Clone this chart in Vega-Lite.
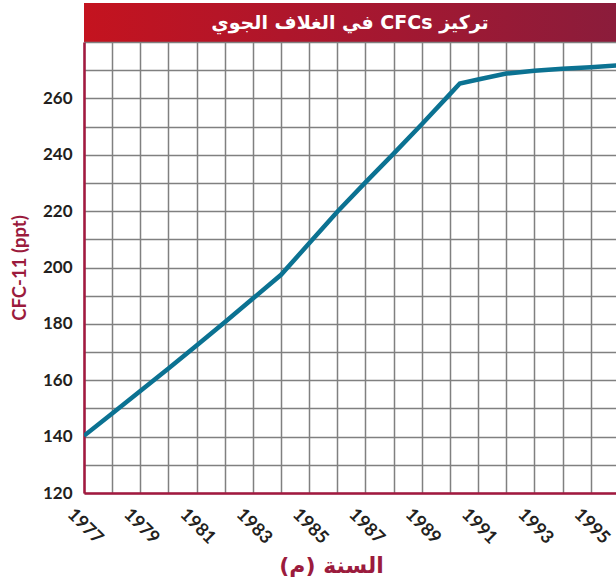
{
  "$schema": "https://vega.github.io/schema/vega-lite/v6.json",
  "padding": {"left": 10, "top": 3, "right": 0, "bottom": 0},
  "spacing": 0,
  "bounds": "flush",
  "config": {"view": {"stroke": null}, "font": "Lato"},
  "vconcat": [
    {
      "width": 532,
      "height": 39,
      "data": {"values": [{"title": "\u202bتركيز CFCs في الغلاف الجوي\u202c"}]},
      "layer": [
        {
          "mark": {
            "type": "rect",
            "color": {
              "gradient": "linear", "x1": 0, "x2": 1, "y1": 0, "y2": 0,
              "stops": [
                {"offset": 0, "color": "#c4131f"},
                {"offset": 0.5, "color": "#a8172f"},
                {"offset": 1, "color": "#8b1c3b"}
              ]
            }
          },
          "encoding": {}
        },
        {
          "mark": {"type": "text", "color": "white", "fontSize": 19, "fontWeight": "bold", "font": "DejaVu Sans"},
          "encoding": {"text": {"field": "title"}}
        }
      ]
    },
    {
      "width": 532,
      "height": 451,
      "data": {
        "values": [
          {"year": 1977, "cfc": 140.3},
          {"year": 1978, "cfc": 148.2},
          {"year": 1979, "cfc": 156.2},
          {"year": 1980, "cfc": 164.2},
          {"year": 1981, "cfc": 172.3},
          {"year": 1982, "cfc": 180.6},
          {"year": 1983, "cfc": 189.0},
          {"year": 1984, "cfc": 197.4},
          {"year": 1985, "cfc": 208.6},
          {"year": 1986, "cfc": 219.8},
          {"year": 1987, "cfc": 230.2},
          {"year": 1988, "cfc": 240.4},
          {"year": 1989, "cfc": 250.8},
          {"year": 1990, "cfc": 261.5},
          {"year": 1990.35, "cfc": 265.3},
          {"year": 1991, "cfc": 266.7},
          {"year": 1992, "cfc": 268.8},
          {"year": 1993, "cfc": 269.8},
          {"year": 1994, "cfc": 270.5},
          {"year": 1995, "cfc": 271.0},
          {"year": 1996, "cfc": 271.7}
        ]
      },
      "mark": {"type": "line", "color": "#0b7292", "strokeWidth": 4.5, "clip": true},
      "encoding": {
        "x": {
          "field": "year",
          "type": "quantitative",
          "scale": {"domain": [1977, 1995.9], "nice": false, "zero": false},
          "axis": {
            "values": [1977, 1978, 1979, 1980, 1981, 1982, 1983, 1984, 1985, 1986, 1987, 1988, 1989, 1990, 1991, 1992, 1993, 1994, 1995],
            "format": "d",
            "labelExpr": "datum.value % 2 == 1 ? datum.label : ''",
            "grid": true, "gridColor": "#808080", "gridWidth": 1.5,
            "ticks": false,
            "domainColor": "#a3193f", "domainWidth": 2.5,
            "labelAngle": 45, "labelAlign": "left", "labelBaseline": "top",
            "labelFont": "Lato", "labelFontSize": 18, "labelFontWeight": "bold", "labelColor": "#231f20",
            "labelPadding": 12, "labelOffset": -8, "labelOverlap": false, "labelFlush": false, "labelBound": false,
            "title": "\u202bالسنة (م)\u202c",
            "titleColor": "#9b1b3d", "titleFontSize": 22, "titleFontWeight": "bold", "titleFont": "DejaVu Sans",
            "titlePadding": 8, "titleX": 247
          }
        },
        "y": {
          "field": "cfc",
          "type": "quantitative",
          "scale": {"domain": [120, 280], "nice": false, "zero": false},
          "axis": {
            "values": [120, 130, 140, 150, 160, 170, 180, 190, 200, 210, 220, 230, 240, 250, 260, 270, 280],
            "labelExpr": "datum.value % 20 == 0 && datum.value <= 260 ? datum.label : ''",
            "grid": true, "gridColor": "#808080", "gridWidth": 1.5,
            "ticks": false,
            "domainColor": "#a3193f", "domainWidth": 2.5,
            "labelFont": "Lato", "labelFontSize": 17, "labelFontWeight": "bold", "labelColor": "#231f20",
            "labelPadding": 12, "labelOverlap": false,
            "title": "CFC-11 (ppt)",
            "titleColor": "#9b1b3d", "titleFontSize": 18.5, "titleFontWeight": "bold", "titleFont": "Lato",
            "titlePadding": 13
          }
        }
      }
    }
  ]
}
